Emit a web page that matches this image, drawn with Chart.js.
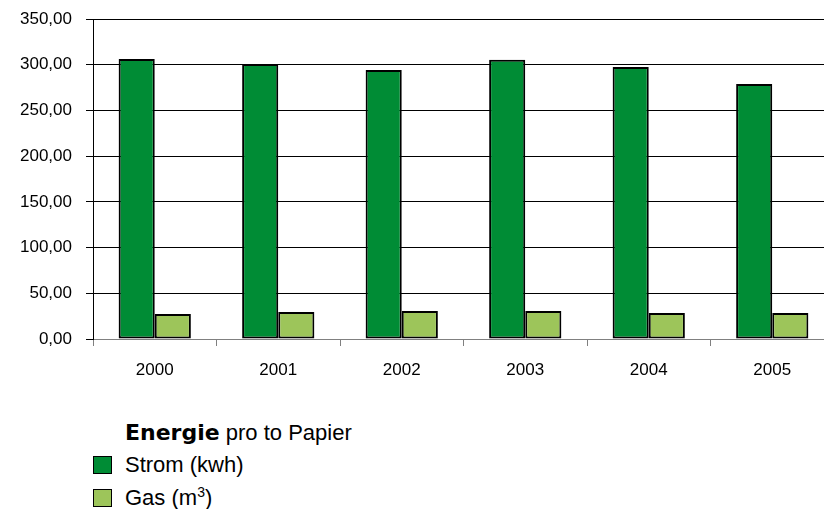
<!DOCTYPE html>
<html>
<head>
  <title>Energie pro to Papier</title>
  <script src="https://cdn.jsdelivr.net/npm/chart.js@4.4.1/dist/chart.umd.min.js"></script>
  <style>
    body { margin: 0; background: #fff; overflow: hidden; width: 824px; height: 509px; font-family: "Liberation Sans", Arial, sans-serif; }
    .chart-box { position: absolute; left: 0; top: 0; width: 834px; height: 390px; }
    .legend { position: absolute; left: 93px; top: 418px; color: #000; font-size: 22px; }
    .legend .title { margin-left: 32px; height: 30px; line-height: 30px; }
    .legend .title b { font-family: "DejaVu Sans", sans-serif; font-weight: 900; }
    .legend .item { height: 33px; display: flex; align-items: center; }
    .legend .box { width: 17px; height: 16px; border: 1px solid #000; margin-right: 13px; }
    .legend sup { font-size: 14px; vertical-align: 8px; line-height: 0; }
  </style>
</head>
<body>
  <div class="chart-box"><canvas id="chart"></canvas></div>
  <div class="legend">
    <div class="title"><b>Energie</b> pro to Papier</div>
    <div class="item"><span class="box" style="background:#008c35"></span><span>Strom (kwh)</span></div>
    <div class="item"><span class="box" style="background:#9dc55a"></span><span>Gas (m<sup>3</sup>)</span></div>
  </div>
  <script>
    const years = ['2000', '2001', '2002', '2003', '2004', '2005'];
    const strom = [306.3, 300.9, 294.3, 305.3, 297.6, 279.0];
    const gas = [27.4, 29.5, 30.6, 30.6, 28.4, 28.4];
    const yTicks = [0, 50, 100, 150, 200, 250, 300, 350];

    new Chart(document.getElementById('chart'), {
      type: 'bar',
      data: {
        labels: years,
        datasets: [
          { label: 'Strom (kwh)', data: strom, backgroundColor: '#008c35', borderColor: '#000', borderWidth: 2, borderSkipped: false },
          { label: 'Gas (m3)', data: gas, backgroundColor: '#9dc55a', borderColor: '#000', borderWidth: 2, borderSkipped: false }
        ]
      },
      options: {
        responsive: true,
        maintainAspectRatio: false,
        animation: false,
        layout: { padding: { top: 19, right: 0, left: 0, bottom: 0 } },
        datasets: { bar: { categoryPercentage: 0.585, barPercentage: 1 } },
        plugins: { legend: { display: false }, tooltip: { enabled: false } },
        scales: {
          x: {
            afterFit: s => { s.height = 51; s.paddingLeft = 0; s.paddingRight = 0; },
            grid: { drawOnChartArea: false, offset: true, tickLength: 7, color: '#808080' },
            border: { color: '#808080', width: 1 },
            ticks: { color: '#000', padding: 14, font: { family: 'Liberation Sans', size: 17 } }
          },
          y: {
            min: 0, max: 350,
            afterFit: s => { s.width = 93; s.paddingTop = 0; s.paddingBottom = 0; },
            afterBuildTicks: s => { s.ticks = yTicks.map(v => ({ value: v })); },
            grid: { color: '#000', lineWidth: 1, tickLength: 7 },
            border: { color: '#000', width: 1 },
            ticks: {
              color: '#000', padding: 14,
              font: { family: 'Liberation Sans', size: 17 },
              callback: v => v.toFixed(2).replace('.', ',')
            }
          }
        }
      }
    });
  </script>
</body>
</html>
